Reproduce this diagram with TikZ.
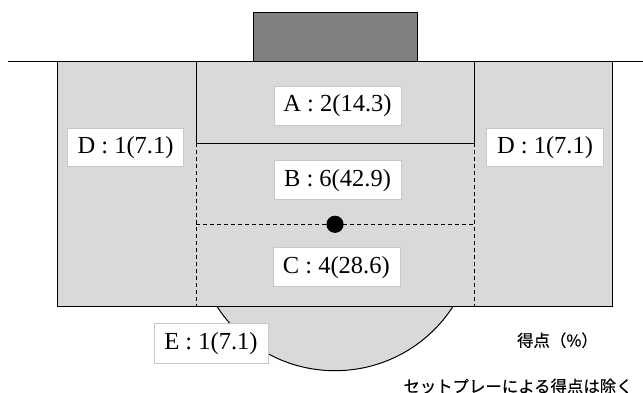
\documentclass[tikz,border=0pt]{standalone}
\usepackage{fontspec}
\setmainfont{Liberation Serif}
\newfontfamily\jpfont[FakeBold=0.4]{Noto Sans CJK JP}
\definecolor{fieldgray}{RGB}{217,217,217}
\definecolor{goalgray}{RGB}{128,128,128}
\definecolor{boxedge}{RGB}{200,200,200}
\begin{document}
\begin{tikzpicture}[x=1pt,y=-1pt,
  outline/.style={draw=black,line width=1pt},
  dashline/.style={draw=black,line width=1pt,dash pattern=on 4pt off 3pt},
  lbl/.style={draw=boxedge,fill=white,line width=0.6pt,inner sep=0pt,
    minimum height=39pt,font=\fontsize{24.5}{28}\selectfont},
  note/.style={inner sep=0pt,font=\jpfont\fontsize{16.4}{18}\selectfont}]
\useasboundingbox (0,0) rectangle (643,393);
% goal line
\draw[line width=1.5pt] (8,61.7) -- (643,61.7);
% goal
\draw[outline,fill=goalgray] (253.7,12.3) rectangle (417,61.7);
% penalty arc
\draw[outline,fill=fieldgray] (335,230.2) circle[radius=140.5];
% penalty area
\draw[outline,fill=fieldgray] (57.7,61.7) rectangle (612.7,306);
% goal area
\draw[outline] (196.3,61.7) -- (196.3,143.3) -- (474,143.3) -- (474,61.7);
\draw[dashline] (196.3,143.3) -- (196.3,306);
\draw[dashline] (474,143.3) -- (474,306);
\draw[dashline] (196.3,224.3) -- (474,224.3);
% penalty spot
\fill[black] (335,224.3) circle[radius=8.6];
% labels
\node[lbl,minimum width=127pt] (A) at (337.5,105.5) {A : 2(14.3)};
\node[lbl,minimum width=127pt] (B) at (337.5,180.3) {B : 6(42.9)};
\node[lbl,minimum width=127pt] (C) at (336.3,267.2) {C : 4(28.6)};
\node[lbl,minimum width=115.6pt,minimum height=38pt] (DL) at (125.5,147.7) {D : 1(7.1)};
\node[lbl,minimum width=116.6pt,minimum height=38pt] (DR) at (545,147.7) {D : 1(7.1)};
\node[lbl,minimum width=114pt,minimum height=40pt] (E) at (211,343.2) {E : 1(7.1)};
\node[note] (legend) at (557.5,340.3) {得点（\%）};
\node[note] (remark) at (518,386.2) {セットプレーによる得点は除く};
\end{tikzpicture}
\end{document}
